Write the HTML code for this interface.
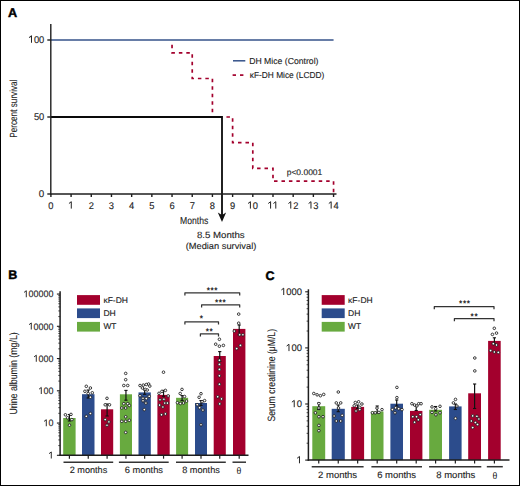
<!DOCTYPE html>
<html><head><meta charset="utf-8"><style>
html,body{margin:0;padding:0;background:#fff;}
body{width:520px;height:486px;overflow:hidden;}
svg{display:block;font-family:"Liberation Sans",sans-serif;text-rendering:geometricPrecision;}
.frame{position:absolute;left:0;top:0;width:518px;height:484px;border:1px solid #000;}
</style></head><body>
<svg width="520" height="486" viewBox="0 0 520 486" font-family="Liberation Sans, sans-serif">
<rect x="0" y="0" width="520" height="486" fill="#fff"/>
<text x="8" y="17.0" font-size="12.7" text-anchor="start" fill="#000" font-weight="bold" stroke="#000" stroke-width="0.45">A</text>
<line x1="51" y1="40" x2="333.56" y2="40" stroke="#34528a" stroke-width="1.5" />
<polyline points="172.04,40.80 172.04,52.83 192.23,52.83 192.23,78.50 212.42,78.50 212.42,117.00 232.61,117.00 232.61,142.67 252.80,142.67 252.80,168.33 272.99,168.33 272.99,181.17 333.56,181.17 333.56,194.00" fill="none" stroke="#a3002d" stroke-width="1.7" stroke-dasharray="3.5 3.95" stroke-dashoffset="3.5"/>
<polyline points="51,117 222,117 222,215" fill="none" stroke="#0a0a0a" stroke-width="1.8"/>
<polygon points="217.8,212.6 222,222 226.1,212.6 222,214.9" fill="#111"/>
<line x1="50.8" y1="24" x2="50.8" y2="194.6" stroke="#1e1e1e" stroke-width="1.4" />
<line x1="50.1" y1="194" x2="336.5" y2="194" stroke="#1e1e1e" stroke-width="1.4" />
<line x1="47.3" y1="194.0" x2="50.8" y2="194.0" stroke="#1e1e1e" stroke-width="1.4" />
<line x1="47.3" y1="117.0" x2="50.8" y2="117.0" stroke="#1e1e1e" stroke-width="1.4" />
<line x1="47.3" y1="40.0" x2="50.8" y2="40.0" stroke="#1e1e1e" stroke-width="1.4" />
<line x1="50.9" y1="194" x2="50.9" y2="197" stroke="#1e1e1e" stroke-width="1.4" />
<text x="50.90" y="208.6" font-size="9.7" text-anchor="middle" fill="#222" stroke="#222" stroke-width="0.12" transform="translate(50.90,0) scale(0.964,1) translate(-50.90,0)">0</text>
<line x1="71.09" y1="194" x2="71.09" y2="197" stroke="#1e1e1e" stroke-width="1.4" />
<path d="M68.94,203.50 L71.29,201.70 L71.29,208.60" fill="none" stroke="#222" stroke-width="1.00" stroke-linejoin="round"/>
<line x1="91.28" y1="194" x2="91.28" y2="197" stroke="#1e1e1e" stroke-width="1.4" />
<text x="91.28" y="208.6" font-size="9.7" text-anchor="middle" fill="#222" stroke="#222" stroke-width="0.12" transform="translate(91.28,0) scale(0.964,1) translate(-91.28,0)">2</text>
<line x1="111.47" y1="194" x2="111.47" y2="197" stroke="#1e1e1e" stroke-width="1.4" />
<text x="111.47" y="208.6" font-size="9.7" text-anchor="middle" fill="#222" stroke="#222" stroke-width="0.12" transform="translate(111.47,0) scale(0.964,1) translate(-111.47,0)">3</text>
<line x1="131.66" y1="194" x2="131.66" y2="197" stroke="#1e1e1e" stroke-width="1.4" />
<text x="131.66" y="208.6" font-size="9.7" text-anchor="middle" fill="#222" stroke="#222" stroke-width="0.12" transform="translate(131.66,0) scale(0.964,1) translate(-131.66,0)">4</text>
<line x1="151.85" y1="194" x2="151.85" y2="197" stroke="#1e1e1e" stroke-width="1.4" />
<text x="151.85" y="208.6" font-size="9.7" text-anchor="middle" fill="#222" stroke="#222" stroke-width="0.12" transform="translate(151.85,0) scale(0.964,1) translate(-151.85,0)">5</text>
<line x1="172.04000000000002" y1="194" x2="172.04000000000002" y2="197" stroke="#1e1e1e" stroke-width="1.4" />
<text x="172.04" y="208.6" font-size="9.7" text-anchor="middle" fill="#222" stroke="#222" stroke-width="0.12" transform="translate(172.04,0) scale(0.964,1) translate(-172.04,0)">6</text>
<line x1="192.23000000000002" y1="194" x2="192.23000000000002" y2="197" stroke="#1e1e1e" stroke-width="1.4" />
<text x="192.23" y="208.6" font-size="9.7" text-anchor="middle" fill="#222" stroke="#222" stroke-width="0.12" transform="translate(192.23,0) scale(0.964,1) translate(-192.23,0)">7</text>
<line x1="212.42000000000002" y1="194" x2="212.42000000000002" y2="197" stroke="#1e1e1e" stroke-width="1.4" />
<text x="212.42" y="208.6" font-size="9.7" text-anchor="middle" fill="#222" stroke="#222" stroke-width="0.12" transform="translate(212.42,0) scale(0.964,1) translate(-212.42,0)">8</text>
<line x1="232.61" y1="194" x2="232.61" y2="197" stroke="#1e1e1e" stroke-width="1.4" />
<text x="232.61" y="208.6" font-size="9.7" text-anchor="middle" fill="#222" stroke="#222" stroke-width="0.12" transform="translate(232.61,0) scale(0.964,1) translate(-232.61,0)">9</text>
<line x1="252.8" y1="194" x2="252.8" y2="197" stroke="#1e1e1e" stroke-width="1.4" />
<path d="M248.05,203.50 L250.40,201.70 L250.40,208.60" fill="none" stroke="#222" stroke-width="1.00" stroke-linejoin="round"/>
<text x="255.40" y="208.6" font-size="9.7" text-anchor="middle" fill="#222" stroke="#222" stroke-width="0.12" transform="translate(255.40,0) scale(0.964,1) translate(-255.40,0)">0</text>
<line x1="272.99" y1="194" x2="272.99" y2="197" stroke="#1e1e1e" stroke-width="1.4" />
<path d="M268.24,203.50 L270.59,201.70 L270.59,208.60" fill="none" stroke="#222" stroke-width="1.00" stroke-linejoin="round"/>
<path d="M273.44,203.50 L275.79,201.70 L275.79,208.60" fill="none" stroke="#222" stroke-width="1.00" stroke-linejoin="round"/>
<line x1="293.18" y1="194" x2="293.18" y2="197" stroke="#1e1e1e" stroke-width="1.4" />
<path d="M288.43,203.50 L290.78,201.70 L290.78,208.60" fill="none" stroke="#222" stroke-width="1.00" stroke-linejoin="round"/>
<text x="295.78" y="208.6" font-size="9.7" text-anchor="middle" fill="#222" stroke="#222" stroke-width="0.12" transform="translate(295.78,0) scale(0.964,1) translate(-295.78,0)">2</text>
<line x1="313.37" y1="194" x2="313.37" y2="197" stroke="#1e1e1e" stroke-width="1.4" />
<path d="M308.62,203.50 L310.97,201.70 L310.97,208.60" fill="none" stroke="#222" stroke-width="1.00" stroke-linejoin="round"/>
<text x="315.97" y="208.6" font-size="9.7" text-anchor="middle" fill="#222" stroke="#222" stroke-width="0.12" transform="translate(315.97,0) scale(0.964,1) translate(-315.97,0)">3</text>
<line x1="333.56" y1="194" x2="333.56" y2="197" stroke="#1e1e1e" stroke-width="1.4" />
<path d="M328.81,203.50 L331.16,201.70 L331.16,208.60" fill="none" stroke="#222" stroke-width="1.00" stroke-linejoin="round"/>
<text x="336.16" y="208.6" font-size="9.7" text-anchor="middle" fill="#222" stroke="#222" stroke-width="0.12" transform="translate(336.16,0) scale(0.964,1) translate(-336.16,0)">4</text>
<path d="M29.13,37.65 L31.50,35.83 L31.50,42.80" fill="none" stroke="#222" stroke-width="1.01" stroke-linejoin="round"/>
<text x="36.50" y="42.8" font-size="9.8" text-anchor="middle" fill="#222" stroke="#222" stroke-width="0.12" transform="translate(36.50,0) scale(0.954,1) translate(-36.50,0)">0</text>
<text x="41.70" y="42.8" font-size="9.8" text-anchor="middle" fill="#222" stroke="#222" stroke-width="0.12" transform="translate(41.70,0) scale(0.954,1) translate(-41.70,0)">0</text>
<text x="36.50" y="119.8" font-size="9.8" text-anchor="middle" fill="#222" stroke="#222" stroke-width="0.12" transform="translate(36.50,0) scale(0.954,1) translate(-36.50,0)">5</text>
<text x="41.70" y="119.8" font-size="9.8" text-anchor="middle" fill="#222" stroke="#222" stroke-width="0.12" transform="translate(41.70,0) scale(0.954,1) translate(-41.70,0)">0</text>
<text x="41.58" y="196.8" font-size="9.8" text-anchor="middle" fill="#222" stroke="#222" stroke-width="0.12">0</text>
<line x1="233" y1="60.8" x2="245.3" y2="60.8" stroke="#34528a" stroke-width="1.5" />
<line x1="232.6" y1="75.1" x2="236" y2="75.1" stroke="#a3002d" stroke-width="1.7" />
<line x1="240" y1="75.1" x2="243.4" y2="75.1" stroke="#a3002d" stroke-width="1.7" />
<text x="249.2" y="63.9" font-size="8.7" text-anchor="start" fill="#222" textLength="69.3" lengthAdjust="spacingAndGlyphs"  stroke="#222" stroke-width="0.12">DH Mice (Control)</text>
<text x="249.8" y="78.1" font-size="8.7" text-anchor="start" fill="#222" textLength="74.5" lengthAdjust="spacingAndGlyphs"  stroke="#222" stroke-width="0.12">κF-DH Mice (LCDD)</text>
<text x="286.7" y="175" font-size="8.2" text-anchor="start" fill="#222" textLength="35.6" lengthAdjust="spacingAndGlyphs"  stroke="#222" stroke-width="0.12">p&lt;0.0001</text>
<text transform="translate(16.8,137.8) rotate(-90)" font-size="10.3" fill="#222" stroke="#222" stroke-width="0.1" textLength="58.3" lengthAdjust="spacingAndGlyphs">Percent survival</text>
<text x="180" y="223.7" font-size="10.2" text-anchor="start" fill="#222" textLength="28.3" lengthAdjust="spacingAndGlyphs" stroke="#222" stroke-width="0.1">Months</text>
<text x="197" y="237.9" font-size="9" text-anchor="start" fill="#222" textLength="47.7" lengthAdjust="spacingAndGlyphs"  stroke="#222" stroke-width="0.12">8.5 Months</text>
<text x="185.7" y="248.7" font-size="9" text-anchor="start" fill="#222" textLength="70.6" lengthAdjust="spacingAndGlyphs"  stroke="#222" stroke-width="0.12">(Median survival)</text>
<text x="8.2" y="278.8" font-size="12.5" text-anchor="start" fill="#000" font-weight="bold" stroke="#000" stroke-width="0.45">B</text>
<rect x="63.2" y="418" width="12.40" height="37.30" fill="#68aa3f"/>
<rect x="82" y="394.2" width="12.50" height="61.10" fill="#2c4c8c"/>
<rect x="101" y="409.3" width="12.20" height="46.00" fill="#a3002d"/>
<rect x="119.9" y="394.3" width="12.10" height="61.00" fill="#68aa3f"/>
<rect x="138.5" y="392.4" width="12.30" height="62.90" fill="#2c4c8c"/>
<rect x="157.4" y="394.9" width="12.30" height="60.40" fill="#a3002d"/>
<rect x="176.1" y="397.8" width="12.00" height="57.50" fill="#68aa3f"/>
<rect x="195" y="403" width="12.00" height="52.30" fill="#2c4c8c"/>
<rect x="213.7" y="356" width="12.10" height="99.30" fill="#a3002d"/>
<rect x="233" y="328.9" width="12.40" height="126.40" fill="#a3002d"/>
<line x1="69.4" y1="414.5" x2="69.4" y2="421" stroke="#111" stroke-width="1.2" />
<line x1="67.80000000000001" y1="414.5" x2="71.0" y2="414.5" stroke="#111" stroke-width="1.1" />
<line x1="67.80000000000001" y1="421" x2="71.0" y2="421" stroke="#111" stroke-width="1.1" />
<circle cx="65.4" cy="414.8" r="1.3" fill="#fff" stroke="#1a1a1a" stroke-width="0.85"/>
<circle cx="71" cy="414.4" r="1.3" fill="#fff" stroke="#1a1a1a" stroke-width="0.85"/>
<circle cx="67.6" cy="417.8" r="1.3" fill="#fff" stroke="#1a1a1a" stroke-width="0.85"/>
<circle cx="71.9" cy="419.6" r="1.3" fill="#fff" stroke="#1a1a1a" stroke-width="0.85"/>
<circle cx="69.5" cy="425.2" r="1.3" fill="#fff" stroke="#1a1a1a" stroke-width="0.85"/>
<line x1="88.25" y1="390" x2="88.25" y2="398" stroke="#111" stroke-width="1.2" />
<line x1="86.65" y1="390" x2="89.85" y2="390" stroke="#111" stroke-width="1.1" />
<line x1="86.65" y1="398" x2="89.85" y2="398" stroke="#111" stroke-width="1.1" />
<circle cx="86.3" cy="386.3" r="1.3" fill="#fff" stroke="#1a1a1a" stroke-width="0.85"/>
<circle cx="90.4" cy="388" r="1.3" fill="#fff" stroke="#1a1a1a" stroke-width="0.85"/>
<circle cx="84.9" cy="391.3" r="1.3" fill="#fff" stroke="#1a1a1a" stroke-width="0.85"/>
<circle cx="92.3" cy="392.8" r="1.3" fill="#fff" stroke="#1a1a1a" stroke-width="0.85"/>
<circle cx="88.2" cy="393.5" r="1.3" fill="#fff" stroke="#1a1a1a" stroke-width="0.85"/>
<circle cx="90.4" cy="397.2" r="1.3" fill="#fff" stroke="#1a1a1a" stroke-width="0.85"/>
<circle cx="90.4" cy="413.5" r="1.3" fill="#fff" stroke="#1a1a1a" stroke-width="0.85"/>
<circle cx="86.3" cy="416.3" r="1.3" fill="#fff" stroke="#1a1a1a" stroke-width="0.85"/>
<line x1="107.1" y1="404" x2="107.1" y2="416" stroke="#111" stroke-width="1.2" />
<line x1="105.5" y1="404" x2="108.69999999999999" y2="404" stroke="#111" stroke-width="1.1" />
<line x1="105.5" y1="416" x2="108.69999999999999" y2="416" stroke="#111" stroke-width="1.1" />
<circle cx="107" cy="398.3" r="1.3" fill="#fff" stroke="#1a1a1a" stroke-width="0.85"/>
<circle cx="105.2" cy="404.8" r="1.3" fill="#fff" stroke="#1a1a1a" stroke-width="0.85"/>
<circle cx="109.5" cy="404.8" r="1.3" fill="#fff" stroke="#1a1a1a" stroke-width="0.85"/>
<circle cx="105.2" cy="419.6" r="1.3" fill="#fff" stroke="#1a1a1a" stroke-width="0.85"/>
<circle cx="108.9" cy="421.9" r="1.3" fill="#fff" stroke="#1a1a1a" stroke-width="0.85"/>
<circle cx="107" cy="425.2" r="1.3" fill="#fff" stroke="#1a1a1a" stroke-width="0.85"/>
<line x1="125.95" y1="390.4" x2="125.95" y2="400.2" stroke="#111" stroke-width="1.2" />
<line x1="124.35000000000001" y1="390.4" x2="127.55" y2="390.4" stroke="#111" stroke-width="1.1" />
<line x1="124.35000000000001" y1="400.2" x2="127.55" y2="400.2" stroke="#111" stroke-width="1.1" />
<circle cx="125.7" cy="373.4" r="1.3" fill="#fff" stroke="#1a1a1a" stroke-width="0.85"/>
<circle cx="125.7" cy="379.7" r="1.3" fill="#fff" stroke="#1a1a1a" stroke-width="0.85"/>
<circle cx="123.8" cy="385.5" r="1.3" fill="#fff" stroke="#1a1a1a" stroke-width="0.85"/>
<circle cx="127.7" cy="385.5" r="1.3" fill="#fff" stroke="#1a1a1a" stroke-width="0.85"/>
<circle cx="123.8" cy="403.7" r="1.3" fill="#fff" stroke="#1a1a1a" stroke-width="0.85"/>
<circle cx="127.7" cy="403.7" r="1.3" fill="#fff" stroke="#1a1a1a" stroke-width="0.85"/>
<circle cx="129.3" cy="405.5" r="1.3" fill="#fff" stroke="#1a1a1a" stroke-width="0.85"/>
<circle cx="121.8" cy="408" r="1.3" fill="#fff" stroke="#1a1a1a" stroke-width="0.85"/>
<circle cx="125.7" cy="408" r="1.3" fill="#fff" stroke="#1a1a1a" stroke-width="0.85"/>
<circle cx="125.7" cy="416.8" r="1.3" fill="#fff" stroke="#1a1a1a" stroke-width="0.85"/>
<circle cx="121.8" cy="421.3" r="1.3" fill="#fff" stroke="#1a1a1a" stroke-width="0.85"/>
<circle cx="125.7" cy="421.3" r="1.3" fill="#fff" stroke="#1a1a1a" stroke-width="0.85"/>
<circle cx="129.3" cy="420.3" r="1.3" fill="#fff" stroke="#1a1a1a" stroke-width="0.85"/>
<circle cx="125.7" cy="432.4" r="1.3" fill="#fff" stroke="#1a1a1a" stroke-width="0.85"/>
<line x1="144.65" y1="390" x2="144.65" y2="394.3" stroke="#111" stroke-width="1.2" />
<line x1="143.05" y1="390" x2="146.25" y2="390" stroke="#111" stroke-width="1.1" />
<line x1="143.05" y1="394.3" x2="146.25" y2="394.3" stroke="#111" stroke-width="1.1" />
<circle cx="140" cy="385.5" r="1.3" fill="#fff" stroke="#1a1a1a" stroke-width="0.85"/>
<circle cx="143.3" cy="385.1" r="1.3" fill="#fff" stroke="#1a1a1a" stroke-width="0.85"/>
<circle cx="146.3" cy="384.5" r="1.3" fill="#fff" stroke="#1a1a1a" stroke-width="0.85"/>
<circle cx="148.6" cy="384" r="1.3" fill="#fff" stroke="#1a1a1a" stroke-width="0.85"/>
<circle cx="149.8" cy="386.1" r="1.3" fill="#fff" stroke="#1a1a1a" stroke-width="0.85"/>
<circle cx="142.4" cy="388" r="1.3" fill="#fff" stroke="#1a1a1a" stroke-width="0.85"/>
<circle cx="145.3" cy="389.4" r="1.3" fill="#fff" stroke="#1a1a1a" stroke-width="0.85"/>
<circle cx="147.2" cy="390" r="1.3" fill="#fff" stroke="#1a1a1a" stroke-width="0.85"/>
<circle cx="140" cy="395.7" r="1.3" fill="#fff" stroke="#1a1a1a" stroke-width="0.85"/>
<circle cx="143" cy="398.2" r="1.3" fill="#fff" stroke="#1a1a1a" stroke-width="0.85"/>
<circle cx="146.3" cy="398.6" r="1.3" fill="#fff" stroke="#1a1a1a" stroke-width="0.85"/>
<circle cx="149.2" cy="396.3" r="1.3" fill="#fff" stroke="#1a1a1a" stroke-width="0.85"/>
<circle cx="143" cy="400.8" r="1.3" fill="#fff" stroke="#1a1a1a" stroke-width="0.85"/>
<circle cx="145.9" cy="403.1" r="1.3" fill="#fff" stroke="#1a1a1a" stroke-width="0.85"/>
<circle cx="144.3" cy="409.6" r="1.3" fill="#fff" stroke="#1a1a1a" stroke-width="0.85"/>
<line x1="163.55" y1="390.4" x2="163.55" y2="396.3" stroke="#111" stroke-width="1.2" />
<line x1="161.95000000000002" y1="390.4" x2="165.15" y2="390.4" stroke="#111" stroke-width="1.1" />
<line x1="161.95000000000002" y1="396.3" x2="165.15" y2="396.3" stroke="#111" stroke-width="1.1" />
<circle cx="163.5" cy="372.2" r="1.3" fill="#fff" stroke="#1a1a1a" stroke-width="0.85"/>
<circle cx="159" cy="393.3" r="1.3" fill="#fff" stroke="#1a1a1a" stroke-width="0.85"/>
<circle cx="161.9" cy="391.4" r="1.3" fill="#fff" stroke="#1a1a1a" stroke-width="0.85"/>
<circle cx="165.4" cy="390.4" r="1.3" fill="#fff" stroke="#1a1a1a" stroke-width="0.85"/>
<circle cx="160" cy="399.8" r="1.3" fill="#fff" stroke="#1a1a1a" stroke-width="0.85"/>
<circle cx="163.9" cy="399.2" r="1.3" fill="#fff" stroke="#1a1a1a" stroke-width="0.85"/>
<circle cx="168.2" cy="395.9" r="1.3" fill="#fff" stroke="#1a1a1a" stroke-width="0.85"/>
<circle cx="159.6" cy="405.1" r="1.3" fill="#fff" stroke="#1a1a1a" stroke-width="0.85"/>
<circle cx="164.8" cy="403.1" r="1.3" fill="#fff" stroke="#1a1a1a" stroke-width="0.85"/>
<circle cx="167.4" cy="403.1" r="1.3" fill="#fff" stroke="#1a1a1a" stroke-width="0.85"/>
<circle cx="162.9" cy="407" r="1.3" fill="#fff" stroke="#1a1a1a" stroke-width="0.85"/>
<circle cx="161.5" cy="414.8" r="1.3" fill="#fff" stroke="#1a1a1a" stroke-width="0.85"/>
<circle cx="165.4" cy="413.9" r="1.3" fill="#fff" stroke="#1a1a1a" stroke-width="0.85"/>
<line x1="182.1" y1="395.6" x2="182.1" y2="400.6" stroke="#111" stroke-width="1.2" />
<line x1="180.5" y1="395.6" x2="183.7" y2="395.6" stroke="#111" stroke-width="1.1" />
<line x1="180.5" y1="400.6" x2="183.7" y2="400.6" stroke="#111" stroke-width="1.1" />
<circle cx="182" cy="389.4" r="1.3" fill="#fff" stroke="#1a1a1a" stroke-width="0.85"/>
<circle cx="180.2" cy="393.5" r="1.3" fill="#fff" stroke="#1a1a1a" stroke-width="0.85"/>
<circle cx="184.5" cy="396.5" r="1.3" fill="#fff" stroke="#1a1a1a" stroke-width="0.85"/>
<circle cx="177.4" cy="402.7" r="1.3" fill="#fff" stroke="#1a1a1a" stroke-width="0.85"/>
<circle cx="180.4" cy="403.5" r="1.3" fill="#fff" stroke="#1a1a1a" stroke-width="0.85"/>
<circle cx="183.5" cy="403" r="1.3" fill="#fff" stroke="#1a1a1a" stroke-width="0.85"/>
<circle cx="186.5" cy="401.1" r="1.3" fill="#fff" stroke="#1a1a1a" stroke-width="0.85"/>
<line x1="201.0" y1="400.6" x2="201.0" y2="405.5" stroke="#111" stroke-width="1.2" />
<line x1="199.4" y1="400.6" x2="202.6" y2="400.6" stroke="#111" stroke-width="1.1" />
<line x1="199.4" y1="405.5" x2="202.6" y2="405.5" stroke="#111" stroke-width="1.1" />
<circle cx="201" cy="393.7" r="1.3" fill="#fff" stroke="#1a1a1a" stroke-width="0.85"/>
<circle cx="199.1" cy="397.3" r="1.3" fill="#fff" stroke="#1a1a1a" stroke-width="0.85"/>
<circle cx="204.6" cy="400.6" r="1.3" fill="#fff" stroke="#1a1a1a" stroke-width="0.85"/>
<circle cx="202.1" cy="401.7" r="1.3" fill="#fff" stroke="#1a1a1a" stroke-width="0.85"/>
<circle cx="197.2" cy="404.7" r="1.3" fill="#fff" stroke="#1a1a1a" stroke-width="0.85"/>
<circle cx="199.6" cy="407.7" r="1.3" fill="#fff" stroke="#1a1a1a" stroke-width="0.85"/>
<circle cx="202.9" cy="410.1" r="1.3" fill="#fff" stroke="#1a1a1a" stroke-width="0.85"/>
<circle cx="201" cy="424.8" r="1.3" fill="#fff" stroke="#1a1a1a" stroke-width="0.85"/>
<line x1="219.75" y1="351.6" x2="219.75" y2="361.5" stroke="#111" stroke-width="1.2" />
<line x1="218.15" y1="351.6" x2="221.35" y2="351.6" stroke="#111" stroke-width="1.1" />
<line x1="218.15" y1="361.5" x2="221.35" y2="361.5" stroke="#111" stroke-width="1.1" />
<circle cx="219.4" cy="339.3" r="1.3" fill="#fff" stroke="#1a1a1a" stroke-width="0.85"/>
<circle cx="215.7" cy="344.2" r="1.3" fill="#fff" stroke="#1a1a1a" stroke-width="0.85"/>
<circle cx="219.4" cy="346.2" r="1.3" fill="#fff" stroke="#1a1a1a" stroke-width="0.85"/>
<circle cx="223.4" cy="345.4" r="1.3" fill="#fff" stroke="#1a1a1a" stroke-width="0.85"/>
<circle cx="219.4" cy="360.2" r="1.3" fill="#fff" stroke="#1a1a1a" stroke-width="0.85"/>
<circle cx="219.4" cy="364.4" r="1.3" fill="#fff" stroke="#1a1a1a" stroke-width="0.85"/>
<circle cx="219.4" cy="369.4" r="1.3" fill="#fff" stroke="#1a1a1a" stroke-width="0.85"/>
<circle cx="219.4" cy="375.8" r="1.3" fill="#fff" stroke="#1a1a1a" stroke-width="0.85"/>
<circle cx="219.4" cy="384.2" r="1.3" fill="#fff" stroke="#1a1a1a" stroke-width="0.85"/>
<circle cx="217.7" cy="396.8" r="1.3" fill="#fff" stroke="#1a1a1a" stroke-width="0.85"/>
<circle cx="221.5" cy="398.9" r="1.3" fill="#fff" stroke="#1a1a1a" stroke-width="0.85"/>
<circle cx="219.7" cy="403.9" r="1.3" fill="#fff" stroke="#1a1a1a" stroke-width="0.85"/>
<line x1="239.2" y1="325" x2="239.2" y2="334.8" stroke="#111" stroke-width="1.2" />
<line x1="237.6" y1="325" x2="240.79999999999998" y2="325" stroke="#111" stroke-width="1.1" />
<line x1="237.6" y1="334.8" x2="240.79999999999998" y2="334.8" stroke="#111" stroke-width="1.1" />
<circle cx="238.7" cy="314.1" r="1.3" fill="#fff" stroke="#1a1a1a" stroke-width="0.85"/>
<circle cx="238.7" cy="323.2" r="1.3" fill="#fff" stroke="#1a1a1a" stroke-width="0.85"/>
<circle cx="234.3" cy="331.1" r="1.3" fill="#fff" stroke="#1a1a1a" stroke-width="0.85"/>
<circle cx="239.7" cy="334.8" r="1.3" fill="#fff" stroke="#1a1a1a" stroke-width="0.85"/>
<circle cx="242.9" cy="334.8" r="1.3" fill="#fff" stroke="#1a1a1a" stroke-width="0.85"/>
<circle cx="240.4" cy="345.4" r="1.3" fill="#fff" stroke="#1a1a1a" stroke-width="0.85"/>
<circle cx="236.7" cy="348.6" r="1.3" fill="#fff" stroke="#1a1a1a" stroke-width="0.85"/>
<line x1="60.1" y1="291.2" x2="60.1" y2="456.0" stroke="#1e1e1e" stroke-width="1.5" />
<line x1="59.4" y1="455.3" x2="248.5" y2="455.3" stroke="#1e1e1e" stroke-width="1.5" />
<line x1="56.9" y1="455.3" x2="60.1" y2="455.3" stroke="#1e1e1e" stroke-width="1.1" />
<line x1="58.300000000000004" y1="445.5917826398366" x2="60.1" y2="445.5917826398366" stroke="#1e1e1e" stroke-width="0.8" />
<line x1="58.300000000000004" y1="439.9128395352909" x2="60.1" y2="439.9128395352909" stroke="#1e1e1e" stroke-width="0.8" />
<line x1="58.300000000000004" y1="435.88356527967323" x2="60.1" y2="435.88356527967323" stroke="#1e1e1e" stroke-width="0.8" />
<line x1="58.300000000000004" y1="432.7582173601634" x2="60.1" y2="432.7582173601634" stroke="#1e1e1e" stroke-width="0.8" />
<line x1="58.300000000000004" y1="430.2046221751275" x2="60.1" y2="430.2046221751275" stroke="#1e1e1e" stroke-width="0.8" />
<line x1="58.300000000000004" y1="428.04558820954026" x2="60.1" y2="428.04558820954026" stroke="#1e1e1e" stroke-width="0.8" />
<line x1="58.300000000000004" y1="426.1753479195098" x2="60.1" y2="426.1753479195098" stroke="#1e1e1e" stroke-width="0.8" />
<line x1="58.300000000000004" y1="424.52567907058176" x2="60.1" y2="424.52567907058176" stroke="#1e1e1e" stroke-width="0.8" />
<line x1="56.9" y1="423.05" x2="60.1" y2="423.05" stroke="#1e1e1e" stroke-width="1.1" />
<line x1="58.300000000000004" y1="413.3417826398366" x2="60.1" y2="413.3417826398366" stroke="#1e1e1e" stroke-width="0.8" />
<line x1="58.300000000000004" y1="407.6628395352909" x2="60.1" y2="407.6628395352909" stroke="#1e1e1e" stroke-width="0.8" />
<line x1="58.300000000000004" y1="403.63356527967323" x2="60.1" y2="403.63356527967323" stroke="#1e1e1e" stroke-width="0.8" />
<line x1="58.300000000000004" y1="400.5082173601634" x2="60.1" y2="400.5082173601634" stroke="#1e1e1e" stroke-width="0.8" />
<line x1="58.300000000000004" y1="397.9546221751275" x2="60.1" y2="397.9546221751275" stroke="#1e1e1e" stroke-width="0.8" />
<line x1="58.300000000000004" y1="395.79558820954026" x2="60.1" y2="395.79558820954026" stroke="#1e1e1e" stroke-width="0.8" />
<line x1="58.300000000000004" y1="393.9253479195098" x2="60.1" y2="393.9253479195098" stroke="#1e1e1e" stroke-width="0.8" />
<line x1="58.300000000000004" y1="392.27567907058176" x2="60.1" y2="392.27567907058176" stroke="#1e1e1e" stroke-width="0.8" />
<line x1="56.9" y1="390.8" x2="60.1" y2="390.8" stroke="#1e1e1e" stroke-width="1.1" />
<line x1="58.300000000000004" y1="381.0917826398366" x2="60.1" y2="381.0917826398366" stroke="#1e1e1e" stroke-width="0.8" />
<line x1="58.300000000000004" y1="375.4128395352909" x2="60.1" y2="375.4128395352909" stroke="#1e1e1e" stroke-width="0.8" />
<line x1="58.300000000000004" y1="371.38356527967323" x2="60.1" y2="371.38356527967323" stroke="#1e1e1e" stroke-width="0.8" />
<line x1="58.300000000000004" y1="368.2582173601634" x2="60.1" y2="368.2582173601634" stroke="#1e1e1e" stroke-width="0.8" />
<line x1="58.300000000000004" y1="365.7046221751275" x2="60.1" y2="365.7046221751275" stroke="#1e1e1e" stroke-width="0.8" />
<line x1="58.300000000000004" y1="363.54558820954026" x2="60.1" y2="363.54558820954026" stroke="#1e1e1e" stroke-width="0.8" />
<line x1="58.300000000000004" y1="361.6753479195098" x2="60.1" y2="361.6753479195098" stroke="#1e1e1e" stroke-width="0.8" />
<line x1="58.300000000000004" y1="360.02567907058176" x2="60.1" y2="360.02567907058176" stroke="#1e1e1e" stroke-width="0.8" />
<line x1="56.9" y1="358.55" x2="60.1" y2="358.55" stroke="#1e1e1e" stroke-width="1.1" />
<line x1="58.300000000000004" y1="348.8417826398366" x2="60.1" y2="348.8417826398366" stroke="#1e1e1e" stroke-width="0.8" />
<line x1="58.300000000000004" y1="343.1628395352909" x2="60.1" y2="343.1628395352909" stroke="#1e1e1e" stroke-width="0.8" />
<line x1="58.300000000000004" y1="339.13356527967323" x2="60.1" y2="339.13356527967323" stroke="#1e1e1e" stroke-width="0.8" />
<line x1="58.300000000000004" y1="336.0082173601634" x2="60.1" y2="336.0082173601634" stroke="#1e1e1e" stroke-width="0.8" />
<line x1="58.300000000000004" y1="333.4546221751275" x2="60.1" y2="333.4546221751275" stroke="#1e1e1e" stroke-width="0.8" />
<line x1="58.300000000000004" y1="331.29558820954026" x2="60.1" y2="331.29558820954026" stroke="#1e1e1e" stroke-width="0.8" />
<line x1="58.300000000000004" y1="329.4253479195098" x2="60.1" y2="329.4253479195098" stroke="#1e1e1e" stroke-width="0.8" />
<line x1="58.300000000000004" y1="327.77567907058176" x2="60.1" y2="327.77567907058176" stroke="#1e1e1e" stroke-width="0.8" />
<line x1="56.9" y1="326.3" x2="60.1" y2="326.3" stroke="#1e1e1e" stroke-width="1.1" />
<line x1="58.300000000000004" y1="316.5917826398366" x2="60.1" y2="316.5917826398366" stroke="#1e1e1e" stroke-width="0.8" />
<line x1="58.300000000000004" y1="310.9128395352909" x2="60.1" y2="310.9128395352909" stroke="#1e1e1e" stroke-width="0.8" />
<line x1="58.300000000000004" y1="306.88356527967323" x2="60.1" y2="306.88356527967323" stroke="#1e1e1e" stroke-width="0.8" />
<line x1="58.300000000000004" y1="303.7582173601634" x2="60.1" y2="303.7582173601634" stroke="#1e1e1e" stroke-width="0.8" />
<line x1="58.300000000000004" y1="301.2046221751275" x2="60.1" y2="301.2046221751275" stroke="#1e1e1e" stroke-width="0.8" />
<line x1="58.300000000000004" y1="299.04558820954026" x2="60.1" y2="299.04558820954026" stroke="#1e1e1e" stroke-width="0.8" />
<line x1="58.300000000000004" y1="297.1753479195098" x2="60.1" y2="297.1753479195098" stroke="#1e1e1e" stroke-width="0.8" />
<line x1="58.300000000000004" y1="295.52567907058176" x2="60.1" y2="295.52567907058176" stroke="#1e1e1e" stroke-width="0.8" />
<line x1="56.9" y1="294.05" x2="60.1" y2="294.05" stroke="#1e1e1e" stroke-width="1.1" />
<path d="M49.06,453.67 L51.29,451.96 L51.29,458.50" fill="none" stroke="#222" stroke-width="0.95" stroke-linejoin="round"/>
<path d="M44.06,421.42 L46.29,419.71 L46.29,426.25" fill="none" stroke="#222" stroke-width="0.95" stroke-linejoin="round"/>
<text x="51.10" y="426.25" font-size="9.2" text-anchor="middle" fill="#222" stroke="#222" stroke-width="0.12" transform="translate(51.10,0) scale(0.977,1) translate(-51.10,0)">0</text>
<path d="M39.06,389.17 L41.29,387.46 L41.29,394.00" fill="none" stroke="#222" stroke-width="0.95" stroke-linejoin="round"/>
<text x="46.10" y="394.0" font-size="9.2" text-anchor="middle" fill="#222" stroke="#222" stroke-width="0.12" transform="translate(46.10,0) scale(0.977,1) translate(-46.10,0)">0</text>
<text x="51.10" y="394.0" font-size="9.2" text-anchor="middle" fill="#222" stroke="#222" stroke-width="0.12" transform="translate(51.10,0) scale(0.977,1) translate(-51.10,0)">0</text>
<path d="M34.06,356.92 L36.29,355.21 L36.29,361.75" fill="none" stroke="#222" stroke-width="0.95" stroke-linejoin="round"/>
<text x="41.10" y="361.75" font-size="9.2" text-anchor="middle" fill="#222" stroke="#222" stroke-width="0.12" transform="translate(41.10,0) scale(0.977,1) translate(-41.10,0)">0</text>
<text x="46.10" y="361.75" font-size="9.2" text-anchor="middle" fill="#222" stroke="#222" stroke-width="0.12" transform="translate(46.10,0) scale(0.977,1) translate(-46.10,0)">0</text>
<text x="51.10" y="361.75" font-size="9.2" text-anchor="middle" fill="#222" stroke="#222" stroke-width="0.12" transform="translate(51.10,0) scale(0.977,1) translate(-51.10,0)">0</text>
<path d="M29.06,324.67 L31.29,322.96 L31.29,329.50" fill="none" stroke="#222" stroke-width="0.95" stroke-linejoin="round"/>
<text x="36.10" y="329.5" font-size="9.2" text-anchor="middle" fill="#222" stroke="#222" stroke-width="0.12" transform="translate(36.10,0) scale(0.977,1) translate(-36.10,0)">0</text>
<text x="41.10" y="329.5" font-size="9.2" text-anchor="middle" fill="#222" stroke="#222" stroke-width="0.12" transform="translate(41.10,0) scale(0.977,1) translate(-41.10,0)">0</text>
<text x="46.10" y="329.5" font-size="9.2" text-anchor="middle" fill="#222" stroke="#222" stroke-width="0.12" transform="translate(46.10,0) scale(0.977,1) translate(-46.10,0)">0</text>
<text x="51.10" y="329.5" font-size="9.2" text-anchor="middle" fill="#222" stroke="#222" stroke-width="0.12" transform="translate(51.10,0) scale(0.977,1) translate(-51.10,0)">0</text>
<path d="M24.06,292.42 L26.29,290.71 L26.29,297.25" fill="none" stroke="#222" stroke-width="0.95" stroke-linejoin="round"/>
<text x="31.10" y="297.25" font-size="9.2" text-anchor="middle" fill="#222" stroke="#222" stroke-width="0.12" transform="translate(31.10,0) scale(0.977,1) translate(-31.10,0)">0</text>
<text x="36.10" y="297.25" font-size="9.2" text-anchor="middle" fill="#222" stroke="#222" stroke-width="0.12" transform="translate(36.10,0) scale(0.977,1) translate(-36.10,0)">0</text>
<text x="41.10" y="297.25" font-size="9.2" text-anchor="middle" fill="#222" stroke="#222" stroke-width="0.12" transform="translate(41.10,0) scale(0.977,1) translate(-41.10,0)">0</text>
<text x="46.10" y="297.25" font-size="9.2" text-anchor="middle" fill="#222" stroke="#222" stroke-width="0.12" transform="translate(46.10,0) scale(0.977,1) translate(-46.10,0)">0</text>
<text x="51.10" y="297.25" font-size="9.2" text-anchor="middle" fill="#222" stroke="#222" stroke-width="0.12" transform="translate(51.10,0) scale(0.977,1) translate(-51.10,0)">0</text>
<line x1="69.4" y1="455.3" x2="69.4" y2="458.7" stroke="#1e1e1e" stroke-width="1.2" />
<line x1="88.25" y1="455.3" x2="88.25" y2="458.7" stroke="#1e1e1e" stroke-width="1.2" />
<line x1="107.1" y1="455.3" x2="107.1" y2="458.7" stroke="#1e1e1e" stroke-width="1.2" />
<line x1="125.95" y1="455.3" x2="125.95" y2="458.7" stroke="#1e1e1e" stroke-width="1.2" />
<line x1="144.65" y1="455.3" x2="144.65" y2="458.7" stroke="#1e1e1e" stroke-width="1.2" />
<line x1="163.55" y1="455.3" x2="163.55" y2="458.7" stroke="#1e1e1e" stroke-width="1.2" />
<line x1="182.1" y1="455.3" x2="182.1" y2="458.7" stroke="#1e1e1e" stroke-width="1.2" />
<line x1="201.0" y1="455.3" x2="201.0" y2="458.7" stroke="#1e1e1e" stroke-width="1.2" />
<line x1="219.75" y1="455.3" x2="219.75" y2="458.7" stroke="#1e1e1e" stroke-width="1.2" />
<line x1="239.2" y1="455.3" x2="239.2" y2="458.7" stroke="#1e1e1e" stroke-width="1.2" />
<line x1="63.5" y1="462.2" x2="113.2" y2="462.2" stroke="#333" stroke-width="1.5" />
<line x1="118.9" y1="462.2" x2="168.7" y2="462.2" stroke="#333" stroke-width="1.5" />
<line x1="176" y1="462.2" x2="225.8" y2="462.2" stroke="#333" stroke-width="1.5" />
<line x1="232.5" y1="462.2" x2="246" y2="462.2" stroke="#333" stroke-width="1.5" />
<text x="88.5" y="473.3" font-size="9.1" text-anchor="middle" fill="#222" textLength="37.5" lengthAdjust="spacingAndGlyphs"  stroke="#222" stroke-width="0.12">2 months</text>
<text x="143.9" y="473.3" font-size="9.1" text-anchor="middle" fill="#222" textLength="38.2" lengthAdjust="spacingAndGlyphs"  stroke="#222" stroke-width="0.12">6 months</text>
<text x="201" y="473.3" font-size="9.1" text-anchor="middle" fill="#222" textLength="37.7" lengthAdjust="spacingAndGlyphs"  stroke="#222" stroke-width="0.12">8 months</text>
<text x="238.85" y="473.90000000000003" font-size="10" text-anchor="middle" fill="#222" font-family="Liberation Serif, serif" stroke="none">θ</text>
<rect x="77" y="295.10" width="23" height="9.7" fill="#a3002d"/>
<text x="103.4" y="303.1" font-size="8.2" text-anchor="start" fill="#222" textLength="24.6" lengthAdjust="spacingAndGlyphs"  stroke="#222" stroke-width="0.12">κF-DH</text>
<rect x="77" y="308.40" width="23" height="9.7" fill="#2c4c8c"/>
<text x="103.4" y="315.7" font-size="8.2" text-anchor="start" fill="#222" textLength="12.4" lengthAdjust="spacingAndGlyphs"  stroke="#222" stroke-width="0.12">DH</text>
<rect x="77" y="321.90" width="23" height="9.7" fill="#68aa3f"/>
<text x="103.4" y="328.8" font-size="8.2" text-anchor="start" fill="#222" textLength="13.0" lengthAdjust="spacingAndGlyphs"  stroke="#222" stroke-width="0.12">WT</text>
<text transform="translate(17.1,414.6) rotate(-90)" font-size="10.6" fill="#222" stroke="#222" stroke-width="0.1" textLength="82.4" lengthAdjust="spacingAndGlyphs">Urine albumin (mg/L)</text>
<polyline points="184.9,295.40000000000003 184.9,292.8 239.7,292.8 239.7,295.40000000000003" fill="none" stroke="#333" stroke-width="1.25" stroke-linejoin="round"/>
<text x="212.2" y="292.7" font-size="8.2" text-anchor="middle" fill="#222" textLength="10.69" lengthAdjust="spacing" font-weight="bold" stroke="none">***</text>
<polyline points="201.6,307.40000000000003 201.6,304.8 239.7,304.8 239.7,307.40000000000003" fill="none" stroke="#333" stroke-width="1.25" stroke-linejoin="round"/>
<text x="220.4" y="304.9" font-size="8.2" text-anchor="middle" fill="#222" textLength="10.79" lengthAdjust="spacing" font-weight="bold" stroke="none">***</text>
<polyline points="184.9,324.40000000000003 184.9,321.8 218.5,321.8 218.5,324.40000000000003" fill="none" stroke="#333" stroke-width="1.25" stroke-linejoin="round"/>
<text x="201.3" y="321.3" font-size="8.2" text-anchor="middle" fill="#222" font-weight="bold" stroke="none">*</text>
<polyline points="200.4,336.5 200.4,333.9 218.5,333.9 218.5,336.5" fill="none" stroke="#333" stroke-width="1.25" stroke-linejoin="round"/>
<text x="209.3" y="333.9" font-size="8.2" text-anchor="middle" fill="#222" textLength="6.89" lengthAdjust="spacing" font-weight="bold" stroke="none">**</text>
<text x="265.5" y="280.3" font-size="12.5" text-anchor="start" fill="#000" font-weight="bold" stroke="#000" stroke-width="0.45">C</text>
<rect x="312.3" y="406.2" width="12.90" height="53.90" fill="#68aa3f"/>
<rect x="331.7" y="408.8" width="13.10" height="51.30" fill="#2c4c8c"/>
<rect x="351.2" y="406.9" width="12.90" height="53.20" fill="#a3002d"/>
<rect x="370.9" y="411.5" width="12.60" height="48.60" fill="#68aa3f"/>
<rect x="390.4" y="403.7" width="12.60" height="56.40" fill="#2c4c8c"/>
<rect x="410" y="410.9" width="12.40" height="49.20" fill="#a3002d"/>
<rect x="429.2" y="409.8" width="12.80" height="50.30" fill="#68aa3f"/>
<rect x="449.1" y="406.4" width="12.50" height="53.70" fill="#2c4c8c"/>
<rect x="468.2" y="393.3" width="12.80" height="66.80" fill="#a3002d"/>
<rect x="488.1" y="340.9" width="12.60" height="119.20" fill="#a3002d"/>
<line x1="318.75" y1="403" x2="318.75" y2="409.5" stroke="#111" stroke-width="1.2" />
<line x1="317.15" y1="403" x2="320.35" y2="403" stroke="#111" stroke-width="1.1" />
<line x1="317.15" y1="409.5" x2="320.35" y2="409.5" stroke="#111" stroke-width="1.1" />
<circle cx="313.8" cy="393.5" r="1.3" fill="#fff" stroke="#1a1a1a" stroke-width="0.85"/>
<circle cx="317.1" cy="394.8" r="1.3" fill="#fff" stroke="#1a1a1a" stroke-width="0.85"/>
<circle cx="320.4" cy="395.7" r="1.3" fill="#fff" stroke="#1a1a1a" stroke-width="0.85"/>
<circle cx="323.7" cy="394.4" r="1.3" fill="#fff" stroke="#1a1a1a" stroke-width="0.85"/>
<circle cx="318.9" cy="403.6" r="1.3" fill="#fff" stroke="#1a1a1a" stroke-width="0.85"/>
<circle cx="318.9" cy="408" r="1.3" fill="#fff" stroke="#1a1a1a" stroke-width="0.85"/>
<circle cx="315.4" cy="412.8" r="1.3" fill="#fff" stroke="#1a1a1a" stroke-width="0.85"/>
<circle cx="318.9" cy="416.7" r="1.3" fill="#fff" stroke="#1a1a1a" stroke-width="0.85"/>
<circle cx="323" cy="416.7" r="1.3" fill="#fff" stroke="#1a1a1a" stroke-width="0.85"/>
<circle cx="318.9" cy="425.4" r="1.3" fill="#fff" stroke="#1a1a1a" stroke-width="0.85"/>
<circle cx="318.9" cy="430.7" r="1.3" fill="#fff" stroke="#1a1a1a" stroke-width="0.85"/>
<line x1="338.25" y1="405" x2="338.25" y2="411.7" stroke="#111" stroke-width="1.2" />
<line x1="336.65" y1="405" x2="339.85" y2="405" stroke="#111" stroke-width="1.1" />
<line x1="336.65" y1="411.7" x2="339.85" y2="411.7" stroke="#111" stroke-width="1.1" />
<circle cx="338.3" cy="392" r="1.3" fill="#fff" stroke="#1a1a1a" stroke-width="0.85"/>
<circle cx="336.3" cy="402.9" r="1.3" fill="#fff" stroke="#1a1a1a" stroke-width="0.85"/>
<circle cx="340.7" cy="402.9" r="1.3" fill="#fff" stroke="#1a1a1a" stroke-width="0.85"/>
<circle cx="338.5" cy="408" r="1.3" fill="#fff" stroke="#1a1a1a" stroke-width="0.85"/>
<circle cx="334.1" cy="416" r="1.3" fill="#fff" stroke="#1a1a1a" stroke-width="0.85"/>
<circle cx="342.2" cy="415.4" r="1.3" fill="#fff" stroke="#1a1a1a" stroke-width="0.85"/>
<circle cx="336.3" cy="421" r="1.3" fill="#fff" stroke="#1a1a1a" stroke-width="0.85"/>
<circle cx="340.7" cy="421" r="1.3" fill="#fff" stroke="#1a1a1a" stroke-width="0.85"/>
<line x1="357.65" y1="405" x2="357.65" y2="408.4" stroke="#111" stroke-width="1.2" />
<line x1="356.04999999999995" y1="405" x2="359.25" y2="405" stroke="#111" stroke-width="1.1" />
<line x1="356.04999999999995" y1="408.4" x2="359.25" y2="408.4" stroke="#111" stroke-width="1.1" />
<circle cx="355.3" cy="402.5" r="1.3" fill="#fff" stroke="#1a1a1a" stroke-width="0.85"/>
<circle cx="358.6" cy="401.8" r="1.3" fill="#fff" stroke="#1a1a1a" stroke-width="0.85"/>
<circle cx="361.9" cy="404" r="1.3" fill="#fff" stroke="#1a1a1a" stroke-width="0.85"/>
<circle cx="354.2" cy="405.8" r="1.3" fill="#fff" stroke="#1a1a1a" stroke-width="0.85"/>
<circle cx="359.7" cy="407.3" r="1.3" fill="#fff" stroke="#1a1a1a" stroke-width="0.85"/>
<circle cx="356" cy="411" r="1.3" fill="#fff" stroke="#1a1a1a" stroke-width="0.85"/>
<circle cx="359.7" cy="409.5" r="1.3" fill="#fff" stroke="#1a1a1a" stroke-width="0.85"/>
<line x1="377.2" y1="406" x2="377.2" y2="413" stroke="#111" stroke-width="1.2" />
<line x1="375.59999999999997" y1="406" x2="378.8" y2="406" stroke="#111" stroke-width="1.1" />
<line x1="375.59999999999997" y1="413" x2="378.8" y2="413" stroke="#111" stroke-width="1.1" />
<circle cx="377" cy="408.1" r="1.3" fill="#fff" stroke="#1a1a1a" stroke-width="0.85"/>
<circle cx="372.4" cy="412.8" r="1.3" fill="#fff" stroke="#1a1a1a" stroke-width="0.85"/>
<circle cx="375.2" cy="412.8" r="1.3" fill="#fff" stroke="#1a1a1a" stroke-width="0.85"/>
<circle cx="378.9" cy="412.4" r="1.3" fill="#fff" stroke="#1a1a1a" stroke-width="0.85"/>
<circle cx="382" cy="409.6" r="1.3" fill="#fff" stroke="#1a1a1a" stroke-width="0.85"/>
<line x1="396.7" y1="400" x2="396.7" y2="406" stroke="#111" stroke-width="1.2" />
<line x1="395.09999999999997" y1="400" x2="398.3" y2="400" stroke="#111" stroke-width="1.1" />
<line x1="395.09999999999997" y1="406" x2="398.3" y2="406" stroke="#111" stroke-width="1.1" />
<circle cx="396.9" cy="387.4" r="1.3" fill="#fff" stroke="#1a1a1a" stroke-width="0.85"/>
<circle cx="396.9" cy="397.6" r="1.3" fill="#fff" stroke="#1a1a1a" stroke-width="0.85"/>
<circle cx="392.4" cy="409.6" r="1.3" fill="#fff" stroke="#1a1a1a" stroke-width="0.85"/>
<circle cx="395.6" cy="407.8" r="1.3" fill="#fff" stroke="#1a1a1a" stroke-width="0.85"/>
<circle cx="398.7" cy="408.7" r="1.3" fill="#fff" stroke="#1a1a1a" stroke-width="0.85"/>
<circle cx="402" cy="409.6" r="1.3" fill="#fff" stroke="#1a1a1a" stroke-width="0.85"/>
<circle cx="395" cy="412.8" r="1.3" fill="#fff" stroke="#1a1a1a" stroke-width="0.85"/>
<line x1="416.2" y1="406" x2="416.2" y2="410.5" stroke="#111" stroke-width="1.2" />
<line x1="414.59999999999997" y1="406" x2="417.8" y2="406" stroke="#111" stroke-width="1.1" />
<line x1="414.59999999999997" y1="410.5" x2="417.8" y2="410.5" stroke="#111" stroke-width="1.1" />
<circle cx="411.9" cy="403.7" r="1.3" fill="#fff" stroke="#1a1a1a" stroke-width="0.85"/>
<circle cx="414.6" cy="405" r="1.3" fill="#fff" stroke="#1a1a1a" stroke-width="0.85"/>
<circle cx="418.7" cy="403.7" r="1.3" fill="#fff" stroke="#1a1a1a" stroke-width="0.85"/>
<circle cx="421.1" cy="403.7" r="1.3" fill="#fff" stroke="#1a1a1a" stroke-width="0.85"/>
<circle cx="416.9" cy="405.9" r="1.3" fill="#fff" stroke="#1a1a1a" stroke-width="0.85"/>
<circle cx="412.8" cy="416.7" r="1.3" fill="#fff" stroke="#1a1a1a" stroke-width="0.85"/>
<circle cx="416.5" cy="416.7" r="1.3" fill="#fff" stroke="#1a1a1a" stroke-width="0.85"/>
<circle cx="420.2" cy="414.6" r="1.3" fill="#fff" stroke="#1a1a1a" stroke-width="0.85"/>
<circle cx="418.3" cy="419.8" r="1.3" fill="#fff" stroke="#1a1a1a" stroke-width="0.85"/>
<circle cx="414.6" cy="422.2" r="1.3" fill="#fff" stroke="#1a1a1a" stroke-width="0.85"/>
<line x1="435.6" y1="406.5" x2="435.6" y2="411" stroke="#111" stroke-width="1.2" />
<line x1="434.0" y1="406.5" x2="437.20000000000005" y2="406.5" stroke="#111" stroke-width="1.1" />
<line x1="434.0" y1="411" x2="437.20000000000005" y2="411" stroke="#111" stroke-width="1.1" />
<circle cx="432" cy="406.9" r="1.3" fill="#fff" stroke="#1a1a1a" stroke-width="0.85"/>
<circle cx="435.7" cy="408.7" r="1.3" fill="#fff" stroke="#1a1a1a" stroke-width="0.85"/>
<circle cx="440" cy="406.3" r="1.3" fill="#fff" stroke="#1a1a1a" stroke-width="0.85"/>
<circle cx="432" cy="412.4" r="1.3" fill="#fff" stroke="#1a1a1a" stroke-width="0.85"/>
<circle cx="435.9" cy="414.8" r="1.3" fill="#fff" stroke="#1a1a1a" stroke-width="0.85"/>
<circle cx="440" cy="412.8" r="1.3" fill="#fff" stroke="#1a1a1a" stroke-width="0.85"/>
<line x1="455.35" y1="404" x2="455.35" y2="409.5" stroke="#111" stroke-width="1.2" />
<line x1="453.75" y1="404" x2="456.95000000000005" y2="404" stroke="#111" stroke-width="1.1" />
<line x1="453.75" y1="409.5" x2="456.95000000000005" y2="409.5" stroke="#111" stroke-width="1.1" />
<circle cx="455.5" cy="399.4" r="1.3" fill="#fff" stroke="#1a1a1a" stroke-width="0.85"/>
<circle cx="453.4" cy="402.9" r="1.3" fill="#fff" stroke="#1a1a1a" stroke-width="0.85"/>
<circle cx="456.9" cy="406" r="1.3" fill="#fff" stroke="#1a1a1a" stroke-width="0.85"/>
<circle cx="455.5" cy="418.4" r="1.3" fill="#fff" stroke="#1a1a1a" stroke-width="0.85"/>
<line x1="474.6" y1="384" x2="474.6" y2="408.5" stroke="#111" stroke-width="1.2" />
<line x1="473.0" y1="384" x2="476.20000000000005" y2="384" stroke="#111" stroke-width="1.1" />
<line x1="473.0" y1="408.5" x2="476.20000000000005" y2="408.5" stroke="#111" stroke-width="1.1" />
<circle cx="474.8" cy="358" r="1.3" fill="#fff" stroke="#1a1a1a" stroke-width="0.85"/>
<circle cx="474.8" cy="370.9" r="1.3" fill="#fff" stroke="#1a1a1a" stroke-width="0.85"/>
<circle cx="472.7" cy="415.9" r="1.3" fill="#fff" stroke="#1a1a1a" stroke-width="0.85"/>
<circle cx="476.9" cy="416.3" r="1.3" fill="#fff" stroke="#1a1a1a" stroke-width="0.85"/>
<circle cx="478.9" cy="419" r="1.3" fill="#fff" stroke="#1a1a1a" stroke-width="0.85"/>
<circle cx="471.3" cy="421" r="1.3" fill="#fff" stroke="#1a1a1a" stroke-width="0.85"/>
<circle cx="475.4" cy="422.5" r="1.3" fill="#fff" stroke="#1a1a1a" stroke-width="0.85"/>
<circle cx="477.5" cy="424.5" r="1.3" fill="#fff" stroke="#1a1a1a" stroke-width="0.85"/>
<circle cx="472.7" cy="427.6" r="1.3" fill="#fff" stroke="#1a1a1a" stroke-width="0.85"/>
<line x1="494.4" y1="337.8" x2="494.4" y2="343.7" stroke="#111" stroke-width="1.2" />
<line x1="492.79999999999995" y1="337.8" x2="496.0" y2="337.8" stroke="#111" stroke-width="1.1" />
<line x1="492.79999999999995" y1="343.7" x2="496.0" y2="343.7" stroke="#111" stroke-width="1.1" />
<circle cx="494.3" cy="328.3" r="1.3" fill="#fff" stroke="#1a1a1a" stroke-width="0.85"/>
<circle cx="492.4" cy="334.4" r="1.3" fill="#fff" stroke="#1a1a1a" stroke-width="0.85"/>
<circle cx="496.5" cy="333.1" r="1.3" fill="#fff" stroke="#1a1a1a" stroke-width="0.85"/>
<circle cx="493.3" cy="343.7" r="1.3" fill="#fff" stroke="#1a1a1a" stroke-width="0.85"/>
<circle cx="496.5" cy="345" r="1.3" fill="#fff" stroke="#1a1a1a" stroke-width="0.85"/>
<circle cx="490.6" cy="350.6" r="1.3" fill="#fff" stroke="#1a1a1a" stroke-width="0.85"/>
<circle cx="494.3" cy="352" r="1.3" fill="#fff" stroke="#1a1a1a" stroke-width="0.85"/>
<circle cx="498.3" cy="352.4" r="1.3" fill="#fff" stroke="#1a1a1a" stroke-width="0.85"/>
<line x1="308.4" y1="289.3" x2="308.4" y2="460.8" stroke="#1e1e1e" stroke-width="1.5" />
<line x1="307.7" y1="460.1" x2="509.5" y2="460.1" stroke="#1e1e1e" stroke-width="1.5" />
<line x1="305.2" y1="460.1" x2="308.4" y2="460.1" stroke="#1e1e1e" stroke-width="1.1" />
<line x1="306.59999999999997" y1="443.2122172432507" x2="308.4" y2="443.2122172432507" stroke="#1e1e1e" stroke-width="0.8" />
<line x1="306.59999999999997" y1="433.33349761022697" x2="308.4" y2="433.33349761022697" stroke="#1e1e1e" stroke-width="0.8" />
<line x1="306.59999999999997" y1="426.32443448650133" x2="308.4" y2="426.32443448650133" stroke="#1e1e1e" stroke-width="0.8" />
<line x1="306.59999999999997" y1="420.88778275674935" x2="308.4" y2="420.88778275674935" stroke="#1e1e1e" stroke-width="0.8" />
<line x1="306.59999999999997" y1="416.4457148534776" x2="308.4" y2="416.4457148534776" stroke="#1e1e1e" stroke-width="0.8" />
<line x1="306.59999999999997" y1="412.6899999552002" x2="308.4" y2="412.6899999552002" stroke="#1e1e1e" stroke-width="0.8" />
<line x1="306.59999999999997" y1="409.436651729752" x2="308.4" y2="409.436651729752" stroke="#1e1e1e" stroke-width="0.8" />
<line x1="306.59999999999997" y1="406.5669952204539" x2="308.4" y2="406.5669952204539" stroke="#1e1e1e" stroke-width="0.8" />
<line x1="305.2" y1="404.0" x2="308.4" y2="404.0" stroke="#1e1e1e" stroke-width="1.1" />
<line x1="306.59999999999997" y1="387.11221724325065" x2="308.4" y2="387.11221724325065" stroke="#1e1e1e" stroke-width="0.8" />
<line x1="306.59999999999997" y1="377.23349761022695" x2="308.4" y2="377.23349761022695" stroke="#1e1e1e" stroke-width="0.8" />
<line x1="306.59999999999997" y1="370.2244344865013" x2="308.4" y2="370.2244344865013" stroke="#1e1e1e" stroke-width="0.8" />
<line x1="306.59999999999997" y1="364.7877827567493" x2="308.4" y2="364.7877827567493" stroke="#1e1e1e" stroke-width="0.8" />
<line x1="306.59999999999997" y1="360.3457148534776" x2="308.4" y2="360.3457148534776" stroke="#1e1e1e" stroke-width="0.8" />
<line x1="306.59999999999997" y1="356.5899999552002" x2="308.4" y2="356.5899999552002" stroke="#1e1e1e" stroke-width="0.8" />
<line x1="306.59999999999997" y1="353.33665172975196" x2="308.4" y2="353.33665172975196" stroke="#1e1e1e" stroke-width="0.8" />
<line x1="306.59999999999997" y1="350.4669952204539" x2="308.4" y2="350.4669952204539" stroke="#1e1e1e" stroke-width="0.8" />
<line x1="305.2" y1="347.90000000000003" x2="308.4" y2="347.90000000000003" stroke="#1e1e1e" stroke-width="1.1" />
<line x1="306.59999999999997" y1="331.0122172432507" x2="308.4" y2="331.0122172432507" stroke="#1e1e1e" stroke-width="0.8" />
<line x1="306.59999999999997" y1="321.133497610227" x2="308.4" y2="321.133497610227" stroke="#1e1e1e" stroke-width="0.8" />
<line x1="306.59999999999997" y1="314.12443448650134" x2="308.4" y2="314.12443448650134" stroke="#1e1e1e" stroke-width="0.8" />
<line x1="306.59999999999997" y1="308.68778275674936" x2="308.4" y2="308.68778275674936" stroke="#1e1e1e" stroke-width="0.8" />
<line x1="306.59999999999997" y1="304.24571485347764" x2="308.4" y2="304.24571485347764" stroke="#1e1e1e" stroke-width="0.8" />
<line x1="306.59999999999997" y1="300.48999995520023" x2="308.4" y2="300.48999995520023" stroke="#1e1e1e" stroke-width="0.8" />
<line x1="306.59999999999997" y1="297.236651729752" x2="308.4" y2="297.236651729752" stroke="#1e1e1e" stroke-width="0.8" />
<line x1="306.59999999999997" y1="294.36699522045393" x2="308.4" y2="294.36699522045393" stroke="#1e1e1e" stroke-width="0.8" />
<line x1="305.2" y1="291.8" x2="308.4" y2="291.8" stroke="#1e1e1e" stroke-width="1.1" />
<path d="M297.15,458.26 L299.47,456.48 L299.47,463.30" fill="none" stroke="#222" stroke-width="0.99" stroke-linejoin="round"/>
<path d="M291.90,402.16 L294.22,400.38 L294.22,407.20" fill="none" stroke="#222" stroke-width="0.99" stroke-linejoin="round"/>
<text x="299.27" y="407.2" font-size="9.6" text-anchor="middle" fill="#222" stroke="#222" stroke-width="0.12" transform="translate(299.27,0) scale(0.984,1) translate(-299.27,0)">0</text>
<path d="M286.65,346.06 L288.97,344.28 L288.97,351.10" fill="none" stroke="#222" stroke-width="0.99" stroke-linejoin="round"/>
<text x="294.02" y="351.1" font-size="9.6" text-anchor="middle" fill="#222" stroke="#222" stroke-width="0.12" transform="translate(294.02,0) scale(0.984,1) translate(-294.02,0)">0</text>
<text x="299.27" y="351.1" font-size="9.6" text-anchor="middle" fill="#222" stroke="#222" stroke-width="0.12" transform="translate(299.27,0) scale(0.984,1) translate(-299.27,0)">0</text>
<path d="M281.40,289.96 L283.72,288.18 L283.72,295.00" fill="none" stroke="#222" stroke-width="0.99" stroke-linejoin="round"/>
<text x="288.77" y="295.0" font-size="9.6" text-anchor="middle" fill="#222" stroke="#222" stroke-width="0.12" transform="translate(288.77,0) scale(0.984,1) translate(-288.77,0)">0</text>
<text x="294.02" y="295.0" font-size="9.6" text-anchor="middle" fill="#222" stroke="#222" stroke-width="0.12" transform="translate(294.02,0) scale(0.984,1) translate(-294.02,0)">0</text>
<text x="299.27" y="295.0" font-size="9.6" text-anchor="middle" fill="#222" stroke="#222" stroke-width="0.12" transform="translate(299.27,0) scale(0.984,1) translate(-299.27,0)">0</text>
<line x1="318.75" y1="460.1" x2="318.75" y2="463.5" stroke="#1e1e1e" stroke-width="1.2" />
<line x1="338.25" y1="460.1" x2="338.25" y2="463.5" stroke="#1e1e1e" stroke-width="1.2" />
<line x1="357.65" y1="460.1" x2="357.65" y2="463.5" stroke="#1e1e1e" stroke-width="1.2" />
<line x1="377.2" y1="460.1" x2="377.2" y2="463.5" stroke="#1e1e1e" stroke-width="1.2" />
<line x1="396.7" y1="460.1" x2="396.7" y2="463.5" stroke="#1e1e1e" stroke-width="1.2" />
<line x1="416.2" y1="460.1" x2="416.2" y2="463.5" stroke="#1e1e1e" stroke-width="1.2" />
<line x1="435.6" y1="460.1" x2="435.6" y2="463.5" stroke="#1e1e1e" stroke-width="1.2" />
<line x1="455.35" y1="460.1" x2="455.35" y2="463.5" stroke="#1e1e1e" stroke-width="1.2" />
<line x1="474.6" y1="460.1" x2="474.6" y2="463.5" stroke="#1e1e1e" stroke-width="1.2" />
<line x1="494.4" y1="460.1" x2="494.4" y2="463.5" stroke="#1e1e1e" stroke-width="1.2" />
<line x1="311.7" y1="466.7" x2="363.6" y2="466.7" stroke="#333" stroke-width="1.5" />
<line x1="371.4" y1="466.7" x2="422" y2="466.7" stroke="#333" stroke-width="1.5" />
<line x1="429.1" y1="466.7" x2="481.3" y2="466.7" stroke="#333" stroke-width="1.5" />
<line x1="486.8" y1="466.7" x2="502.8" y2="466.7" stroke="#333" stroke-width="1.5" />
<text x="337.6" y="478.2" font-size="9.4" text-anchor="middle" fill="#222" textLength="39" lengthAdjust="spacingAndGlyphs"  stroke="#222" stroke-width="0.12">2 months</text>
<text x="396.6" y="478.2" font-size="9.4" text-anchor="middle" fill="#222" textLength="38.9" lengthAdjust="spacingAndGlyphs"  stroke="#222" stroke-width="0.12">6 months</text>
<text x="455.8" y="478.2" font-size="9.4" text-anchor="middle" fill="#222" textLength="39" lengthAdjust="spacingAndGlyphs"  stroke="#222" stroke-width="0.12">8 months</text>
<text x="494.85" y="478.8" font-size="10" text-anchor="middle" fill="#222" font-family="Liberation Serif, serif" stroke="none">θ</text>
<rect x="321.7" y="295.10" width="23" height="9.7" fill="#a3002d"/>
<text x="348.09999999999997" y="303.1" font-size="8.2" text-anchor="start" fill="#222" textLength="24.6" lengthAdjust="spacingAndGlyphs"  stroke="#222" stroke-width="0.12">κF-DH</text>
<rect x="321.7" y="308.40" width="23" height="9.7" fill="#2c4c8c"/>
<text x="348.09999999999997" y="315.7" font-size="8.2" text-anchor="start" fill="#222" textLength="12.4" lengthAdjust="spacingAndGlyphs"  stroke="#222" stroke-width="0.12">DH</text>
<rect x="321.7" y="321.90" width="23" height="9.7" fill="#68aa3f"/>
<text x="348.09999999999997" y="328.8" font-size="8.2" text-anchor="start" fill="#222" textLength="13.0" lengthAdjust="spacingAndGlyphs"  stroke="#222" stroke-width="0.12">WT</text>
<text transform="translate(275.3,421.6) rotate(-90)" font-size="10.6" fill="#222" stroke="#222" stroke-width="0.1" textLength="92.6" lengthAdjust="spacingAndGlyphs">Serum creatinine (μM/L)</text>
<polyline points="434.3,309.3 434.3,306.7 494,306.7 494,309.3" fill="none" stroke="#333" stroke-width="1.25" stroke-linejoin="round"/>
<text x="464.5" y="306.2" font-size="8.2" text-anchor="middle" fill="#222" textLength="10.99" lengthAdjust="spacing" font-weight="bold" stroke="none">***</text>
<polyline points="454.4,321.3 454.4,318.7 494,318.7 494,321.3" fill="none" stroke="#333" stroke-width="1.25" stroke-linejoin="round"/>
<text x="474.1" y="318.5" font-size="8.2" text-anchor="middle" fill="#222" textLength="7.19" lengthAdjust="spacing" font-weight="bold" stroke="none">**</text>
<rect x="0.5" y="0.5" width="519" height="485" fill="none" stroke="#000" stroke-width="1"/>
</svg>
</body></html>
